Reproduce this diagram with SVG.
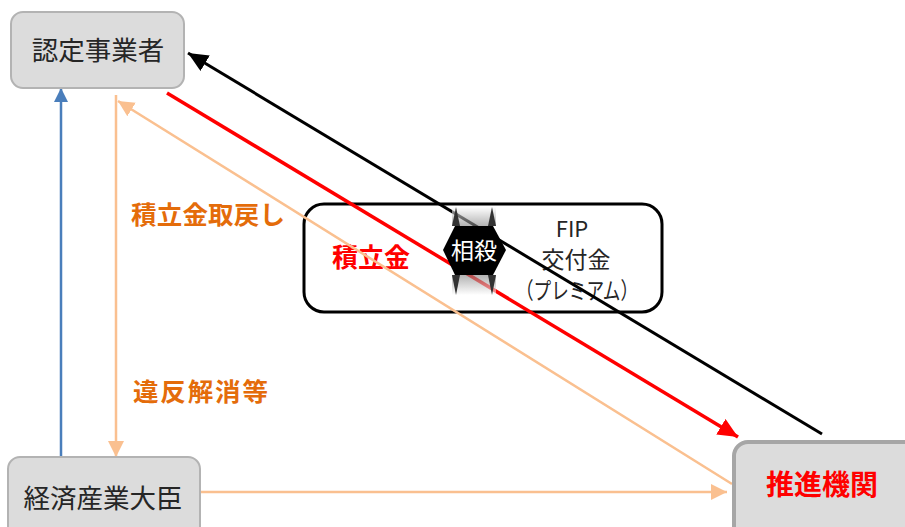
<svg xmlns="http://www.w3.org/2000/svg" width="905" height="527" viewBox="0 0 905 527">
<style>
text{font-family:"Noto Sans CJK JP","Noto Sans",sans-serif;}
.node{fill:#dcdcdc;stroke:#b3b3b3;stroke-width:2;}
.lbl{font-size:26.5px;fill:#262626;text-anchor:middle;}
.box{font-size:22px;fill:#262626;text-anchor:middle;}
.or{font-size:25.5px;font-weight:bold;fill:#e46c0a;}
</style>
<defs>
<marker id="mBlue" markerUnits="userSpaceOnUse" markerWidth="14" markerHeight="14" viewBox="0 0 14 14" refX="14" refY="7" orient="auto"><path d="M0,0 L14,7 L0,14 z" fill="#4a7ebb"/></marker>
<marker id="mOr" markerUnits="userSpaceOnUse" markerWidth="16" markerHeight="16" viewBox="0 0 16 16" refX="16" refY="8" orient="auto"><path d="M0,0 L16,8 L0,16 z" fill="#fac090"/></marker>
<marker id="mRed" markerUnits="userSpaceOnUse" markerWidth="20" markerHeight="18" viewBox="0 0 20 18" refX="20" refY="9" orient="auto"><path d="M0,0 L20,9 L0,18 z" fill="#ff0000"/></marker>
<marker id="mBlk" markerUnits="userSpaceOnUse" markerWidth="20" markerHeight="18" viewBox="0 0 20 18" refX="20" refY="9" orient="auto"><path d="M0,0 L20,9 L0,18 z" fill="#000"/></marker>
<linearGradient id="gTop" x1="0" y1="0" x2="0" y2="1"><stop offset="0" stop-color="#fff"/><stop offset="1" stop-color="#808080"/></linearGradient>
<linearGradient id="gBot" x1="0" y1="1" x2="0" y2="0"><stop offset="0" stop-color="#fff"/><stop offset="1" stop-color="#808080"/></linearGradient>
</defs>
<rect width="905" height="527" fill="#fff"/>

<g id="offset-box">
<rect x="304" y="204" width="358" height="108" rx="20" fill="#fff" stroke="#000" stroke-width="3"/>
<text x="371" y="267" style="font-size:26px;font-weight:bold;fill:#ff0000;" text-anchor="middle">積立金</text>
<text x="572" y="237" class="box">FIP</text>
<text x="576" y="268" class="box" style="font-size:23px">交付金</text>
<text x="577" y="299" class="box" style="font-size:23px" textLength="122" lengthAdjust="spacingAndGlyphs">（プレミアム）</text>
</g>

<g id="connectors">
<line x1="61" y1="457" x2="61" y2="88" stroke="#4a7ebb" stroke-width="2.5" marker-end="url(#mBlue)"/>
<line x1="116" y1="95" x2="116" y2="457" stroke="#fac090" stroke-width="2.5" marker-end="url(#mOr)"/>
<line x1="732" y1="484" x2="118" y2="101" stroke="#fac090" stroke-width="2.5" marker-end="url(#mOr)"/>
<line x1="200" y1="492" x2="727" y2="492" stroke="#fac090" stroke-width="2.5" marker-end="url(#mOr)"/>
<line x1="167" y1="93" x2="738" y2="437" stroke="#ff0000" stroke-width="3.5" marker-end="url(#mRed)"/>
<line x1="822" y1="434" x2="188" y2="53" stroke="#000" stroke-width="3" marker-end="url(#mBlk)"/>
</g>

<g id="sousai">
<rect x="452" y="207" width="44" height="19" fill="url(#gTop)" opacity="0.6"/>
<rect x="452" y="275" width="44" height="20" fill="url(#gBot)" opacity="0.6"/>
<polygon points="456,207 452,226 460,226" fill="#333"/>
<polygon points="492,207 488,226 496,226" fill="#333"/>
<polygon points="456,295 452,275 460,275" fill="#333"/>
<polygon points="492,295 488,275 496,275" fill="#333"/>
<polygon points="443,250 455,226 493,226 506,250 493,275 455,275" fill="#000"/>
<text x="474" y="259" style="font-size:23px;fill:#fff;" text-anchor="middle">相殺</text>
</g>

<g id="label-torimodoshi"><text x="131" y="224" class="or" textLength="154">積立金取戻し</text></g>
<g id="label-ihan"><text x="133" y="401" class="or" textLength="135">違反解消等</text></g>

<g id="node-jigyosha">
<rect x="11" y="12" width="173" height="76" rx="12" class="node"/>
<text x="98" y="60" class="lbl">認定事業者</text>
</g>
<g id="node-daijin">
<rect x="8" y="457" width="192" height="90" rx="12" class="node"/>
<text x="103" y="508" class="lbl">経済産業大臣</text>
</g>
<g id="node-suishin">
<rect x="734" y="442" width="190" height="100" rx="14" fill="#dcdcdc" stroke="#a6a6a6" stroke-width="4"/>
<text x="822" y="495" style="font-size:28px;font-weight:bold;fill:#ff0000;" text-anchor="middle">推進機関</text>
</g>
</svg>
